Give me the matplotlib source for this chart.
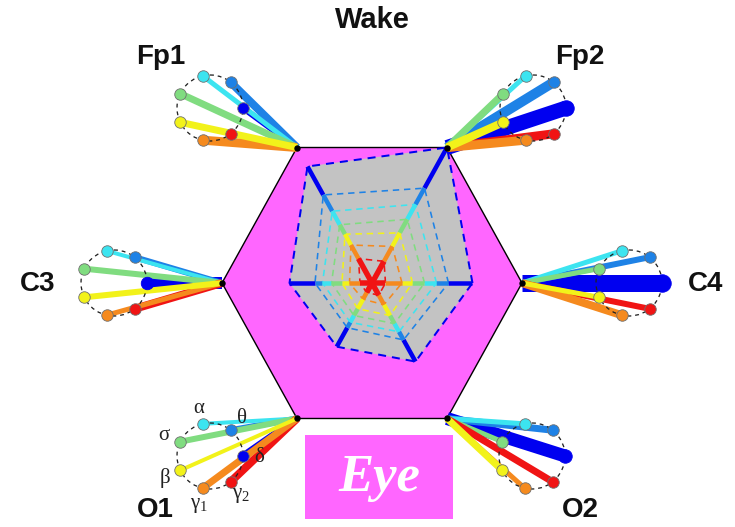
import numpy as np
import matplotlib
matplotlib.use("Agg")
import matplotlib.pyplot as plt
from matplotlib.patches import Polygon, Circle, Rectangle

# upright serif Greek for the band labels
plt.rcParams["mathtext.fontset"] = "custom"
plt.rcParams["mathtext.rm"] = "Liberation Serif"
plt.rcParams["mathtext.it"] = "Liberation Serif"
plt.rcParams["mathtext.bf"] = "Liberation Serif:bold"

# ---- data -------------------------------------------------------------
channels = ["Fp2", "Fp1", "C3", "O1", "O2", "C4"]
channel_angles = [60, 120, 180, 240, 300, 0]          # spoke direction (deg)
band_labels = [r"$\delta$", r"$\theta$", r"$\alpha$", r"$\sigma$",
               r"$\beta$", r"$\gamma_1$", r"$\gamma_2$"]
band_colors = ["#0000F0", "#1E82E6", "#3CE4F0", "#80DC80",
               "#F2F21A", "#F58A1E", "#F01414"]

# relative power per channel (fraction of hexagon radius), ordered like `channels`
delta = [1.00, 0.86, 0.55, 0.47, 0.58, 0.67]
theta = [0.70, 0.65, 0.38, 0.33, 0.42, 0.51]
alpha = [0.58, 0.53, 0.33, 0.29, 0.36, 0.43]
sigma = [0.47, 0.43, 0.27, 0.24, 0.30, 0.35]
beta = [0.37, 0.36, 0.20, 0.19, 0.24, 0.27]
gamma1 = [0.27, 0.28, 0.15, 0.12, 0.16, 0.20]
gamma2 = [0.16, 0.18, 0.08, 0.07, 0.09, 0.09]
radar = [delta, theta, alpha, sigma, beta, gamma1, gamma2]

# spoke thickness per channel (px), ordered like `channels`
w_delta = [15, 6, 12, 7, 13, 17]
w_theta = [10, 8, 6, 6, 7, 6]
w_alpha = [5, 5, 4, 4, 5, 5]
w_sigma = [7, 7, 6, 6, 5, 5]
w_beta = [8, 7, 6, 4, 7, 5]
w_gamma1 = [9, 9, 5, 7, 5, 8]
w_gamma2 = [9, 5, 8, 8, 7, 6]
widths = [w_delta, w_theta, w_alpha, w_sigma, w_beta, w_gamma1, w_gamma2]

title = "Wake"
box_text = "Eye"

# ---- layout -----------------------------------------------------------
W, H = 735, 527
PT = 0.72                      # points per pixel at dpi=100
CX, CY = 372, 283              # hexagon centre (px, y down)
R, KY = 150, 1.043             # hexagon radius and vertical stretch
FAN_R = 33                     # radius of each band fan
fan_offset = {"Fp2": (161, -175), "Fp1": (-162, -175), "C3": (-258, 0),
              "O1": (-162, 173), "O2": (160, 173), "C4": (257, 0)}
label_offset = {"Fp2": (47, -51), "Fp1": (-49, -51), "C3": (-76, 1),
                "O1": (-55, 54), "O2": (48, 54), "C4": (77, 1)}

fig = plt.figure(figsize=(W / 100, H / 100), dpi=100)
ax = fig.add_axes([0, 0, 1, 1])
ax.set_xlim(0, W)
ax.set_ylim(H, 0)
ax.axis("off")


def polar(frac, ang):
    a = np.deg2rad(ang)
    return CX + frac * R * np.cos(a), CY - frac * R * KY * np.sin(a)


# hexagon
hexv = [polar(1.0, a) for a in channel_angles]
order = np.argsort(channel_angles)
hexpts = [hexv[i] for i in order]
ax.add_patch(Polygon(hexpts, closed=True, facecolor="#FF66FF",
                     edgecolor="black", lw=1.4 * PT, zorder=1))

# radar: grey outer area, dashed band contours
outer = [polar(delta[i], channel_angles[i]) for i in order]
ax.add_patch(Polygon(outer, closed=True, facecolor="#C3C3C3",
                     edgecolor="none", zorder=2))
for b in range(len(radar) - 1, -1, -1):
    pts = [polar(radar[b][i], channel_angles[i]) for i in order]
    pts.append(pts[0])
    xs, ys = zip(*pts)
    ax.plot(xs, ys, color=band_colors[b], lw=(2.0 if b == 0 else 1.6) * PT,
            ls=(0, (4, 3)), zorder=3)

# coloured axes: each band drawn from the next inner contour out to its own
for i, ang in enumerate(channel_angles):
    for b in range(len(radar)):
        inner = radar[b + 1][i] if b + 1 < len(radar) else 0.0
        p0 = polar(inner, ang)
        p1 = polar(radar[b][i], ang)
        ax.plot([p0[0], p1[0]], [p0[1], p1[1]], color=band_colors[b],
                lw=(5.5 if b == 6 else 4.5) * PT, solid_capstyle="butt",
                zorder=4)

# band fans at each electrode
draw_order = [0, 1, 2, 3, 6, 5, 4]
band_ang = np.arange(7) * 360 / 7
for i, ch in enumerate(channels):
    vx, vy = hexv[i]
    fx, fy = CX + fan_offset[ch][0], CY + fan_offset[ch][1]
    ends = [(fx + FAN_R * np.cos(np.deg2rad(a)),
             fy - FAN_R * np.sin(np.deg2rad(a))) for a in band_ang]
    for b in draw_order:
        ex, ey = ends[b]
        ax.plot([vx, ex], [vy, ey], color=band_colors[b],
                lw=widths[b][i] * PT, solid_capstyle="butt", zorder=5)
    ax.add_patch(Circle((fx, fy), FAN_R, fill=False, edgecolor="#222222",
                        lw=1.3 * PT, ls=(0, (3, 3)), zorder=6))
    for b in draw_order:
        ex, ey = ends[b]
        size = max(11.5, widths[b][i] + 0.5)
        ax.plot(ex, ey, "o", ms=size * PT, mfc=band_colors[b],
                mec="#707070" if size <= 11.5 else band_colors[b],
                mew=0.6, zorder=7)
    ax.plot(vx, vy, "o", ms=5 * PT, color="black", zorder=8)
    lx, ly = fx + label_offset[ch][0], fy + label_offset[ch][1]
    ax.text(lx, ly, ch, ha="center", va="center", fontsize=20,
            fontweight="bold", family="Liberation Sans", color="#111111",
            zorder=9)
    if ch == "O1":
        for b in range(7):
            a = np.deg2rad(band_ang[b])
            tx, ty = fx + 50 * np.cos(a), fy - 50 * np.sin(a)
            ax.text(tx, ty, band_labels[b], ha="center", va="center",
                    fontsize=15, color="#222222", zorder=9)

# title
ax.text(CX, 20, title, ha="center", va="center", fontsize=21,
        fontweight="bold", family="Liberation Sans", color="#111111")

# condition box
ax.add_patch(Rectangle((305, 435), 148, 84, facecolor="#FF66FF",
                       edgecolor="none", zorder=1))
ax.text(379, 478, box_text, ha="center", va="center", fontsize=38,
        fontweight="bold", fontstyle="italic", family="Liberation Serif",
        color="white", zorder=2)

fig.savefig("out.png", dpi=100)
